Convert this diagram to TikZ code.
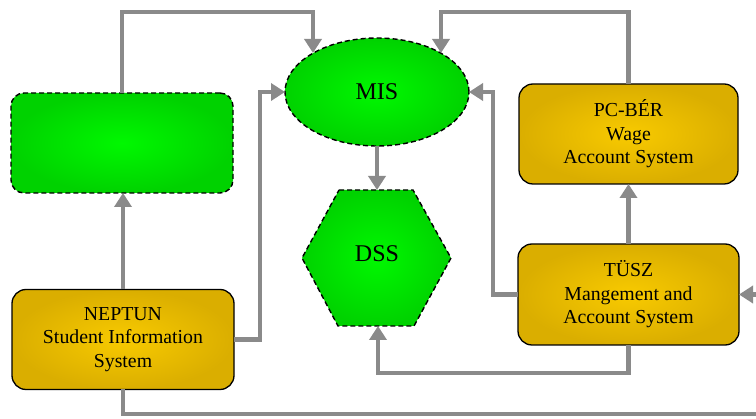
\documentclass[tikz,border=0pt]{standalone}
\usepackage{fontspec}
\setmainfont{Liberation Serif}
\usetikzlibrary{arrows.meta,shapes.geometric}
\definecolor{grnin}{HTML}{00F800}
\definecolor{grnout}{HTML}{00D200}
\definecolor{gldin}{HTML}{F8CA00}
\definecolor{gldout}{HTML}{DAAE00}
\definecolor{conncol}{HTML}{8A8A8A}
\tikzset{
  greenbox/.style={rectangle, rounded corners=13pt, draw=black, line width=1.4pt,
    dash pattern=on 5pt off 3pt, inner color=grnin, outer color=grnout,
    minimum width=222pt, minimum height=100pt, outer sep=0pt, inner sep=0pt},
  goldbox/.style={rectangle, rounded corners=14pt, draw=black, line width=1.3pt,
    inner color=gldin, outer color=gldout, align=center,
    font=\fontsize{19.8}{23.5}\selectfont,
    minimum height=100pt, outer sep=0pt, inner sep=0pt},
  greenshape/.style={draw=black, line width=1.4pt, dash pattern=on 5pt off 3pt,
    inner color=grnin, outer color=grnout},
  conn/.style={draw=conncol, line width=4.5pt, -{Triangle[width=17pt,length=14pt]}}
}
\begin{document}
\begin{tikzpicture}[x=1pt,y=-1pt]
\useasboundingbox (0,0) rectangle (756,419);
\clip (0,0) rectangle (756,419);
% nodes
\node[greenbox] (lg) at (122,143) {};
\node[goldbox, minimum width=222pt] (nep) at (123,339.5) {NEPTUN\\Student Information\\System};
\node[goldbox, minimum width=219pt] (pcb) at (628.5,134) {PC-BÉR\\Wage\\Account System};
\node[goldbox, minimum width=221pt, minimum height=101pt] (tusz) at (628.5,294.5) {TÜSZ\\Mangement and\\Account System};
\node[ellipse, greenshape, minimum width=184pt, minimum height=108pt, inner sep=0pt, outer sep=0pt,
  font=\fontsize{24}{28}\selectfont] (mis) at (377,92) {MIS};
\path[greenshape] (339,190) -- (413,190) -- (451,258) -- (414,326) -- (338,326) -- (302,258) -- cycle;
\node[font=\fontsize{24}{28}\selectfont] (dss) at (377,254) {DSS};
\coordinate (dsstop) at (377,190);
\coordinate (dssbot) at (378,326);
\coordinate (misA) at (313,53);
\coordinate (misB) at (441,53);
\coordinate (topL) at (313,12);
\coordinate (topR) at (441,12);
\coordinate (offR) at (775,414);
% connectors
\draw[conn] (lg.north) |- (topL) -- (misA);
\draw[conn] (pcb.north) |- (topR) -- (misB);
\draw[conn] (nep.east) -- ++(26,0) |- (mis.west);
\draw[conn] (nep.north) -- (nep.north |- lg.south);
\draw[conn] (nep.south) |- (offR) |- (tusz.east);
\draw[conn] (mis.south) -- (dsstop);
\draw[conn] (tusz.west) -- ++(-25,0) |- (mis.east);
\draw[conn] (tusz.south) -- ++(0,28) -| (dssbot);
\draw[conn] (tusz.north) -- (pcb.south);
\end{tikzpicture}
\end{document}
